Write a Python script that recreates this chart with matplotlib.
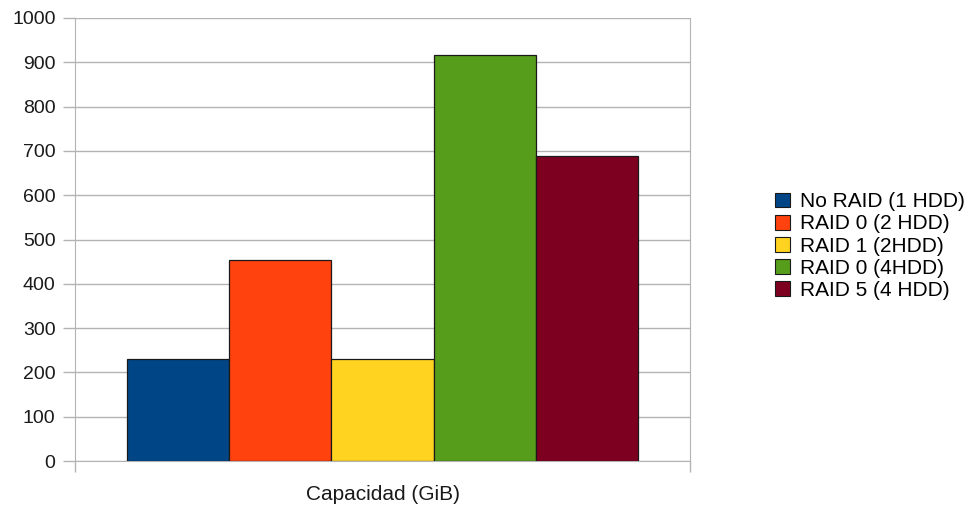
import matplotlib.pyplot as plt
from matplotlib.patches import Patch

plt.rcParams['font.family'] = ['Liberation Sans', 'DejaVu Sans']

categories = ["Capacidad (GiB)"]
series = ["No RAID (1 HDD)", "RAID 0 (2 HDD)", "RAID 1 (2HDD)", "RAID 0 (4HDD)", "RAID 5 (4 HDD)"]
values = [230, 454, 230, 916, 688]
colors = ["#004586", "#ff420e", "#ffd320", "#579d1c", "#7e0021"]
yticks = [0, 100, 200, 300, 400, 500, 600, 700, 800, 900, 1000]

fig = plt.figure(figsize=(9.76, 5.08), dpi=100)
ax = fig.add_axes([75 / 976, 1 - 461 / 508, 615 / 976, 443 / 508])

width = 0.1665
n = len(series)
for i, (lab, v, c) in enumerate(zip(series, values, colors)):
    x = (i - (n - 1) / 2) * width
    ax.bar(x, v, width=width, color=c, edgecolor="#1a1a1a", linewidth=0.9, label=lab, zorder=3)

ax.set_xlim(-0.5, 0.5)
ax.set_ylim(0, 1000)
ax.set_yticks(yticks)
ax.grid(axis='y', color='#b3b3b3', linewidth=1, zorder=0)

gray = '#b3b3b3'
for s in ax.spines.values():
    s.set_color(gray)
ax.spines['top'].set_visible(False)

ax.set_xticks([0])
ax.set_xticklabels(categories)
ax.set_xticks([-0.5, 0.5], minor=True)
ax.tick_params(axis='x', which='major', length=0, pad=17, labelsize=15, colors='#1a1a1a')
ax.tick_params(axis='x', which='minor', length=8, color=gray, width=1)
ax.tick_params(axis='y', length=9, color=gray, width=1, labelsize=14, labelcolor='#1a1a1a', pad=5)

handles = [Patch(facecolor=c, edgecolor='#1a1a1a', linewidth=0.8) for c in colors]
fig.legend(handles, series, loc='center left', bbox_to_anchor=(775 / 976, 1 - 246 / 508),
           frameon=False, fontsize=15, handlelength=0.72, handleheight=0.72,
           handletextpad=0.5, labelspacing=0.15, borderaxespad=0, borderpad=0)

plt.savefig("out.png", dpi=100)
